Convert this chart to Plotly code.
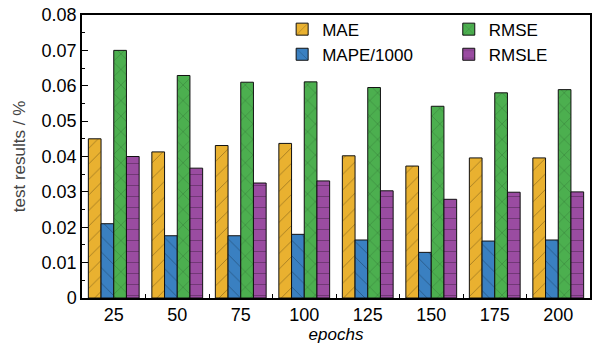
import plotly.graph_objects as go

epochs = ["25", "50", "75", "100", "125", "150", "175", "200"]
mae = [0.0450, 0.0413, 0.0431, 0.0437, 0.0402, 0.0373, 0.0396, 0.0396]
mape_1000 = [0.0210, 0.0176, 0.0176, 0.0180, 0.0164, 0.0129, 0.0161, 0.0164]
rmse = [0.0700, 0.0629, 0.0610, 0.0611, 0.0595, 0.0542, 0.0580, 0.0589]
rmsle = [0.0400, 0.0367, 0.0325, 0.0331, 0.0303, 0.0279, 0.0299, 0.0300]

series = [
    ("MAE", mae, "#E9B130", "/", "legend"),
    ("MAPE/1000", mape_1000, "#3A80C1", "\\", "legend"),
    ("RMSE", rmse, "#4CAF4F", "x", "legend2"),
    ("RMSLE", rmsle, "#9A4CA1", "-", "legend2"),
]

FONT = "Liberation Sans, Arial, sans-serif"

fig = go.Figure()
for name, vals, color, shape, lg in series:
    fig.add_trace(go.Bar(
        x=epochs, y=vals, name=name, legend=lg,
        marker=dict(
            color=color,
            line=dict(color="#111111", width=1),
            pattern=dict(shape=shape, fgcolor="rgba(0,0,0,0.6)", size=11, solidity=0.08),
        ),
    ))

legend_style = dict(
    orientation="v", yanchor="top", xanchor="left", y=1.012,
    font=dict(family=FONT, size=17, color="black"),
    bgcolor="rgba(0,0,0,0)", tracegroupgap=0, traceorder="normal",
)

fig.update_layout(
    width=596, height=345,
    margin=dict(l=82, r=4, t=15, b=47),
    paper_bgcolor="white", plot_bgcolor="white",
    barmode="group", bargap=0.2, bargroupgap=0,
    font=dict(family=FONT, size=18, color="black"),
    legend=dict(x=0.394, **legend_style),
    legend2=dict(x=0.722, **legend_style),
    xaxis=dict(
        type="category", showline=True, linecolor="black", linewidth=1.5, mirror=True,
        ticks="inside", tickson="boundaries", ticklen=4, tickcolor="black",
        tickfont=dict(family=FONT, size=18, color="black"),
        title=dict(text="<i>epochs</i>", font=dict(family=FONT, size=17, color="black"), standoff=0),
        showgrid=False,
    ),
    yaxis=dict(
        range=[0, 0.08], dtick=0.01, showline=True, linecolor="black", linewidth=1.5, mirror=True,
        ticks="inside", ticklen=6, tickcolor="black",
        minor=dict(dtick=0.005, ticks="inside", ticklen=3, tickcolor="black", showgrid=False),
        tickfont=dict(family=FONT, size=18, color="black"),
        title=dict(text="test results / %", font=dict(family=FONT, size=17, color="#444444"), standoff=12),
        showgrid=False, zeroline=False,
    ),
)

fig.write_html(
    "out.html",
    config={"displayModeBar": False},
    post_script="document.body.style.margin='0';document.body.style.overflow='hidden';",
)
